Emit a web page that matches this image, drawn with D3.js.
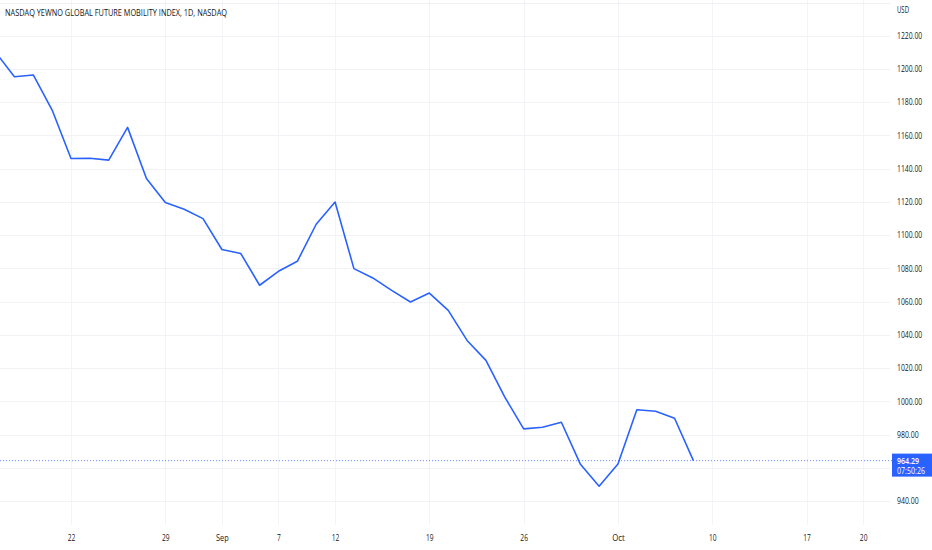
<!DOCTYPE html>
<html>
<head>
<meta charset="utf-8">
<script src="https://cdn.jsdelivr.net/npm/d3@7"></script>
<style>
html,body{margin:0;padding:0;background:#fff;}
svg{display:block;font-family:"Open Sans","Liberation Sans",sans-serif;}
</style>
</head>
<body>
<svg id="chart" width="932" height="550"></svg>
<script>
const title = "NASDAQ YEWNO GLOBAL FUTURE MOBILITY INDEX, 1D, NASDAQ";
const dates = ["2022-08-16","2022-08-17","2022-08-18","2022-08-19","2022-08-22","2022-08-23","2022-08-24","2022-08-25","2022-08-26",
  "2022-08-29","2022-08-30","2022-08-31","2022-09-01","2022-09-02","2022-09-06","2022-09-07","2022-09-08","2022-09-09",
  "2022-09-12","2022-09-13","2022-09-14","2022-09-15","2022-09-16","2022-09-19","2022-09-20","2022-09-21","2022-09-22","2022-09-23",
  "2022-09-26","2022-09-27","2022-09-28","2022-09-29","2022-09-30","2022-10-03","2022-10-04","2022-10-05","2022-10-06","2022-10-07"];
const closes = [1210.0,1195.2,1196.3,1175.2,1146.1,1146.2,1145.1,1164.8,1134.0,
  1119.6,1115.5,1109.9,1091.3,1088.9,1069.8,1078.2,1084.2,1106.5,
  1119.9,1079.8,1074.2,1066.7,1059.7,1065.1,1054.7,1036.6,1024.6,1002.5,
  983.4,984.4,987.4,962.3,948.9,962.3,994.9,994.0,989.8,964.29];
// x-axis labels: trading-day index and text (future days continue the trading-day count)
const tickIndex = [4, 9, 12, 15, 18, 23, 28, 33, 38, 43, 46];
const tickText = ["22","29","Sep","7","12","19","26","Oct","10","17","20"];
const yTicks = [940,960,980,1000,1020,1040,1060,1080,1100,1120,1140,1160,1180,1200,1220];
const lastPrice = 964.29;
const countdown = "07:50:26";
const currency = "USD";

const svg = d3.select("#chart");
const plotRight = 890;
const x = d3.scaleLinear().domain([4, 37]).range([71, 693.4]);
const y = d3.scaleLinear().domain([940, 1220]).range([501, 35.6]);
const font = "'Open Sans','Liberation Sans',sans-serif";

const grid = svg.append("g");
grid.selectAll("line.v").data(tickIndex).join("line")
  .attr("x1", d => Math.round(x(d)) + 0.5).attr("x2", d => Math.round(x(d)) + 0.5)
  .attr("y1", 0).attr("y2", 525)
  .attr("stroke", "#f3f4f7").attr("stroke-width", 1);
grid.selectAll("line.h").data(yTicks).join("line")
  .attr("x1", 0).attr("x2", plotRight)
  .attr("y1", d => Math.round(y(d)) + 0.5).attr("y2", d => Math.round(y(d)) + 0.5)
  .attr("stroke", "#f0f2f6").attr("stroke-width", 1);
svg.append("line").attr("x1", 0).attr("x2", plotRight).attr("y1", 3.5).attr("y2", 3.5)
  .attr("stroke", "#eef0f3");

// y axis labels
const yAxis = d3.axisRight(y).tickValues(yTicks.filter(v => v !== 960))
  .tickFormat(d3.format(".2f")).tickSize(0).tickPadding(0);
const ya = svg.append("g").attr("transform", `translate(897,0)`).call(yAxis);
ya.select(".domain").remove();
ya.selectAll("text").attr("fill", "#131722").attr("font-size", "9px")
  .attr("font-family", font)
  .attr("textLength", function() { return this.textContent.length * 3.6; })
  .attr("lengthAdjust", "spacingAndGlyphs");

svg.append("text").attr("x", 897).attr("y", 13).attr("font-size", "9px").attr("fill", "#131722")
  .attr("textLength", 12).attr("lengthAdjust", "spacingAndGlyphs").text(currency);

// x axis labels
const xAxis = d3.axisBottom(x).tickValues(tickIndex)
  .tickFormat((d, i) => tickText[i]).tickSize(0).tickPadding(0);
const xa = svg.append("g").attr("transform", `translate(0,535)`).call(xAxis);
xa.select(".domain").remove();
xa.selectAll("text").attr("fill", "#131722").attr("font-size", "9px")
  .attr("font-family", font)
  .attr("textLength", function() { return this.textContent.length * (this.textContent.length === 3 ? 4.2 : 3.8); })
  .attr("lengthAdjust", "spacingAndGlyphs");

// price line
svg.append("line").attr("x1", 0).attr("x2", 892)
  .attr("y1", y(lastPrice)).attr("y2", y(lastPrice))
  .attr("stroke", "#2962ff").attr("stroke-width", 1).attr("stroke-dasharray", "1,2").attr("opacity", 0.7);

// series line
svg.append("clipPath").attr("id", "clip").append("rect")
  .attr("x", 0).attr("y", 0).attr("width", plotRight).attr("height", 525);
const line = d3.line().x((d, i) => x(i)).y(d => y(d));
svg.append("path").datum(closes).attr("d", line)
  .attr("clip-path", "url(#clip)")
  .attr("fill", "none").attr("stroke", "#2962ff").attr("stroke-width", 1.6)
  .attr("stroke-linejoin", "round");

// last price label
const ly = y(lastPrice);
svg.append("rect").attr("x", 892).attr("y", ly - 7).attr("width", 40).attr("height", 23)
  .attr("fill", "#2962ff");
svg.append("text").attr("x", 897).attr("y", ly + 3.5).attr("fill", "#fff")
  .attr("font-size", "8.5px").attr("font-weight", "600")
  .attr("textLength", 22).attr("lengthAdjust", "spacingAndGlyphs").text(d3.format(".2f")(lastPrice));
svg.append("text").attr("x", 897).attr("y", ly + 13.5).attr("fill", "#fff")
  .attr("font-size", "8.5px")
  .attr("textLength", 28).attr("lengthAdjust", "spacingAndGlyphs").text(countdown);

// title
svg.append("text").attr("x", 5).attr("y", 16).attr("font-size", "9px").attr("fill", "#131722")
  .attr("textLength", 222).attr("lengthAdjust", "spacingAndGlyphs").text(title);
</script>
</body>
</html>
